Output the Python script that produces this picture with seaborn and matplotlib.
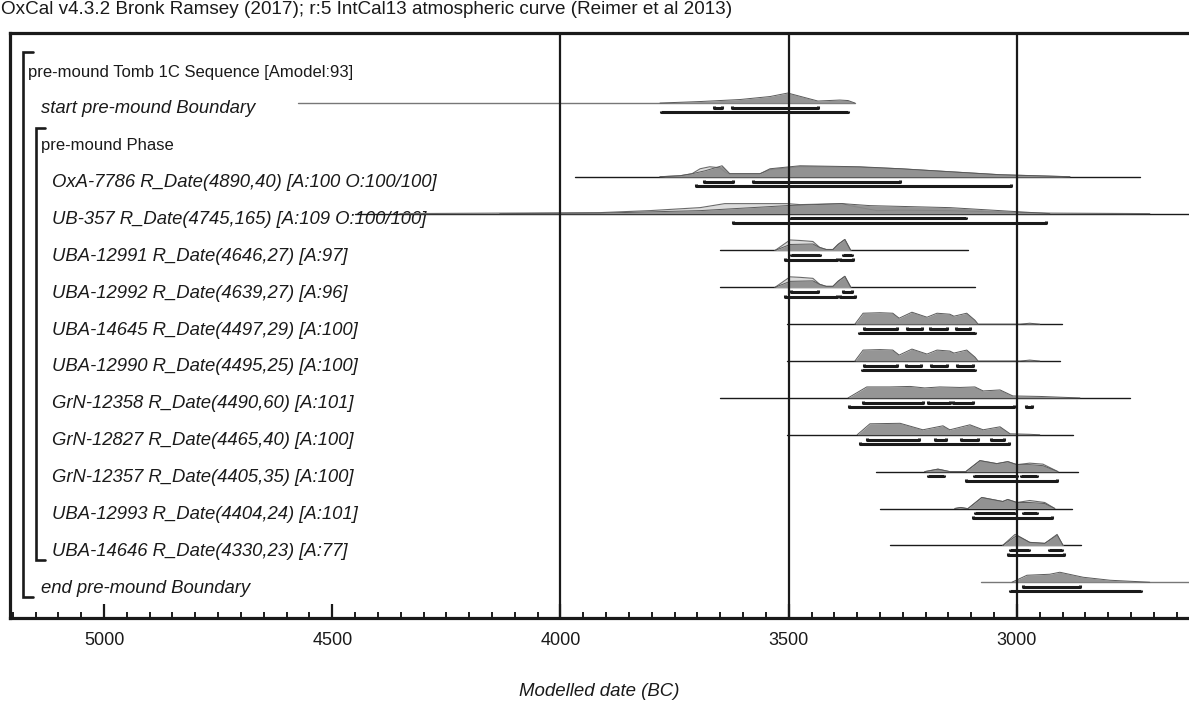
import matplotlib
matplotlib.use("Agg")
import matplotlib.pyplot as plt
import matplotlib.transforms as mtransforms
import pandas as pd
import seaborn as sns

# ---- values: (year BC, relative probability) ----
row_labels = [
    "pre-mound Tomb 1C Sequence [Amodel:93]",
    "start pre-mound Boundary",
    "pre-mound Phase",
    "OxA-7786 R_Date(4890,40) [A:100 O:100/100]",
    "UB-357 R_Date(4745,165) [A:109 O:100/100]",
    "UBA-12991 R_Date(4646,27) [A:97]",
    "UBA-12992 R_Date(4639,27) [A:96]",
    "UBA-14645 R_Date(4497,29) [A:100]",
    "UBA-12990 R_Date(4495,25) [A:100]",
    "GrN-12358 R_Date(4490,60) [A:101]",
    "GrN-12827 R_Date(4465,40) [A:100]",
    "GrN-12357 R_Date(4405,35) [A:100]",
    "UBA-12993 R_Date(4404,24) [A:101]",
    "UBA-14646 R_Date(4330,23) [A:77]",
    "end pre-mound Boundary",
]
label_indent = [0, 1, 1, 2, 2, 2, 2, 2, 2, 2, 2, 2, 2, 2, 1]
label_italic = [False, True, False] + [True] * 12

# baseline extents (from, to) per row, None for group rows
baselines = [None, (4575, 3355), None, (3968, 2731), (4450, 2600),
             (3651, 3107), (3651, 3092), (3504, 2901), (3504, 2906),
             (3651, 2752), (3504, 2877), (3309, 2866), (3300, 2880),
             (3278, 2860), (3079, 2600)]

start_post = [(3782, 0), (3694, 1.5), (3607, 3.5), (3541, 6.5), (3502, 10),
              (3436, 2), (3388, 3), (3370, 2.5), (3355, 0)]

oxa7786_prior = [(3782, 0), (3738, 1), (3712, 3), (3694, 8), (3673, 10), (3651, 9),
                 (3637, 4), (3629, 3), (3563, 3), (3541, 7), (3475, 10), (3344, 9.5),
                 (3256, 8), (3147, 5), (3037, 2), (2884, 0)]
oxa7786_post = [(3782, 0), (3738, 1), (3712, 3), (3683, 6), (3646, 11), (3629, 3),
                (3563, 3), (3541, 8), (3475, 11), (3344, 10), (3256, 8), (3147, 5),
                (3037, 2), (2884, 0)]

ub357_prior = [(4352, 0), (4133, 0.5), (3913, 1), (3804, 3), (3694, 6), (3640, 10),
               (3504, 10), (3475, 9), (3383, 10), (3366, 8), (3307, 3), (3256, 3.5),
               (3147, 3), (3037, 1.5), (2928, 0.5), (2709, 0)]
ub357_post = [(4133, 0), (3913, 0.5), (3694, 3), (3504, 8), (3383, 10), (3322, 8),
              (3147, 6), (3037, 3), (2928, 0)]

uba12991_prior = [(3530, 0), (3497, 10.5), (3475, 10), (3447, 9), (3432, 3), (3418, 1),
                  (3403, 1), (3392, 6), (3377, 11), (3364, 0)]
uba12991_post = [(3530, 0), (3497, 6), (3447, 6.5), (3432, 3), (3418, 1), (3403, 1),
                 (3392, 6), (3377, 11), (3364, 0)]

uba14645_post = [(3355, 0), (3337, 11), (3300, 11.5), (3272, 11), (3258, 6), (3230, 12),
                 (3197, 7), (3175, 11), (3147, 10), (3138, 8), (3110, 11), (3092, 4),
                 (3085, 0), (2993, 0), (2972, 1), (2950, 0)]

grn12358_post = [(3370, 0), (3329, 11), (3278, 11), (3234, 11.5), (3202, 10), (3169, 11),
                 (3125, 10.5), (3092, 11), (3074, 7), (3037, 8), (3009, 2), (2950, 1.5),
                 (2862, 0)]

grn12827_post = [(3350, 0), (3322, 11), (3256, 11.5), (3206, 5), (3162, 9), (3147, 5),
                 (3103, 10), (3074, 5), (3037, 8), (3015, 1), (2972, 0.5), (2950, 0)]

grn12357_prior = [(3202, 0), (3173, 2.5), (3147, 0), (3112, 0), (3081, 11), (3044, 8),
                  (3020, 10), (3000, 7), (2972, 8.5), (2943, 7.5), (2910, 0)]
grn12357_post = [(3202, 0), (3173, 2.5), (3147, 0), (3112, 0), (3081, 11), (3044, 8),
                 (3020, 10), (3000, 7), (2972, 7), (2943, 6), (2910, 0)]

uba12993_prior = [(3136, 0), (3123, 1), (3110, 0), (3107, 0), (3077, 11), (3031, 7),
                  (3020, 9), (3000, 6), (2972, 8), (2939, 6), (2917, 0)]
uba12993_post = [(3136, 0), (3123, 1), (3110, 0), (3107, 0), (3077, 11), (3031, 7),
                 (3020, 9), (3000, 6), (2972, 6), (2939, 5), (2917, 0)]

uba14646_prior = [(3031, 0), (3004, 11), (2972, 3), (2939, 2), (2912, 10), (2899, 0)]
uba14646_post = [(3031, 0), (3000, 10), (2972, 3), (2939, 2), (2912, 11), (2899, 0)]

end_post = [(3011, 0), (2978, 7), (2928, 8), (2906, 10), (2855, 5), (2796, 2), (2709, 0)]

priors = [None, None, None, oxa7786_prior, ub357_prior, uba12991_prior, uba12991_prior,
          None, None, None, None, grn12357_prior, uba12993_prior, uba14646_prior, None]
posts = [None, start_post, None, oxa7786_post, ub357_post, uba12991_post, uba12991_post,
         uba14645_post, uba14645_post, grn12358_post, grn12827_post, grn12357_post,
         uba12993_post, uba14646_post, end_post]

# highest posterior density ranges, 68.2% and 95.4%
ranges_68 = [[], [(3664, 3646), (3624, 3436)], [],
             [(3686, 3622), (3578, 3256)], [(3497, 3112)],
             [(3495, 3432), (3381, 3361)], [(3495, 3436), (3381, 3361)],
             [(3335, 3263), (3241, 3208), (3191, 3153), (3134, 3103)],
             [(3335, 3263), (3243, 3210), (3188, 3153), (3132, 3097)],
             [(3337, 3206), (3195, 3147), (3140, 3096)],
             [(3329, 3215), (3180, 3156), (3123, 3085), (3057, 3028)],
             [(3195, 3160), (3094, 3000), (2991, 2956)],
             [(3092, 3004), (2987, 2956)],
             [(3015, 2974), (2930, 2901)],
             [(2987, 2862)]]
ranges_95 = [[], [(3780, 3370)], [],
             [(3703, 3013)], [(3622, 2936)],
             [(3508, 3394), (3388, 3359)], [(3508, 3394), (3388, 3355)],
             [(3346, 3092)], [(3340, 3092)],
             [(3368, 3007), (2980, 2967)],
             [(3344, 3018)],
             [(3112, 2912)],
             [(3096, 2923)],
             [(3020, 2897)],
             [(3015, 2728)]]

grid_years = [4000, 3500, 3000]

title = "OxCal v4.3.2 Bronk Ramsey (2017); r:5 IntCal13 atmospheric curve (Reimer et al 2013)"

# ---- drawing ----
sns.set_theme(style="white")
plt.rcParams['font.family'] = ['Liberation Sans', 'DejaVu Sans']

W, H = 1189, 702
fig = plt.figure(figsize=(W / 100, H / 100), dpi=100)
ax = fig.add_axes([10 / W, 1 - 618 / H, 1179 / W, (618 - 33) / H])

ROW_PX = 36.85
dark = "#8a8a8a"
light = "#dcdcdc"


def to_df(points, row):
    df = pd.DataFrame(points, columns=["year", "prob"])
    df["y"] = row - df["prob"] / ROW_PX
    return df


for i in range(len(row_labels)):
    if baselines[i] is not None:
        col = "#777777" if i in (1, 14) else "#1a1a1a"
        ax.plot(baselines[i], [i, i], color=col, lw=1.0, zorder=2)
    if priors[i] is not None:
        d = to_df(priors[i], i)
        ax.fill_between(d["year"], i, d["y"], color=light, lw=0, zorder=3)
        sns.lineplot(data=d, x="year", y="y", sort=False, estimator=None,
                     color="#6a6a6a", lw=0.8, ax=ax, zorder=4)
    if posts[i] is not None:
        d = to_df(posts[i], i)
        ax.fill_between(d["year"], i, d["y"], color=dark, lw=0, alpha=0.9, zorder=5)
        sns.lineplot(data=d, x="year", y="y", sort=False, estimator=None,
                     color="#5a5a5a", lw=0.7, ax=ax, zorder=6)
    for k, rr in enumerate((ranges_68[i], ranges_95[i])):
        yy = i + (0.13 if k == 0 else 0.25)
        for a, b in rr:
            ax.plot([a, a, b, b], [yy - 0.045, yy, yy, yy - 0.045],
                    color="#1a1a1a", lw=2.2, solid_capstyle="butt", zorder=7)

for g in grid_years:
    ax.axvline(g, color="#1a1a1a", lw=1.6, zorder=8)

# labels and brackets (x in axes fraction, y in rows)
trans = mtransforms.blended_transform_factory(ax.transAxes, ax.transData)
indent_px = [28, 41, 52]
for i, lab in enumerate(row_labels):
    ax.text((indent_px[label_indent[i]] - 10) / 1179, i + 0.16, lab, transform=trans,
            ha="left", va="center", fontsize=13.3 if label_italic[i] else 12,
            color="#1a1a1a", style="italic" if label_italic[i] else "normal", zorder=1)


def bracket(x0_px, x1_px, top_px, bot_px):
    xs = [(x1_px - 10) / 1179, (x0_px - 10) / 1179, (x0_px - 10) / 1179, (x1_px - 10) / 1179]
    ys = [(top_px - 66.2) / ROW_PX, (top_px - 66.2) / ROW_PX,
          (bot_px - 66.2) / ROW_PX, (bot_px - 66.2) / ROW_PX]
    ax.plot(xs, ys, transform=trans, color="#1a1a1a", lw=1.9, clip_on=False,
            solid_joinstyle="miter")


bracket(23, 33, 52, 597)
bracket(36, 45, 128, 560)

ax.set_xlim(5206, 2623)
ax.set_ylim(14.97, -0.9)
ax.set_yticks([])
ax.set_xticks([5000, 4500, 4000, 3500, 3000])
ax.set_xticks(list(range(5200, 2600, -50)), minor=True)
ax.tick_params(axis="x", which="major", direction="in", length=10, width=1.6,
               pad=10, labelsize=13, colors="#1a1a1a", bottom=True)
ax.tick_params(axis="x", which="minor", direction="in", length=4.5, width=1.4,
               colors="#1a1a1a", bottom=True)
for s in ("left", "top", "bottom"):
    ax.spines[s].set_linewidth(2.3)
    ax.spines[s].set_color("#1a1a1a")
ax.spines["right"].set_visible(False)
ax.set_xlabel("Modelled date (BC)", style="italic", fontsize=13.4, color="#1a1a1a",
              va="center")
ax.xaxis.set_label_coords(0.5, -(691 - 618) / 585)
ax.set_ylabel("")

fig.text(1 / W, 1 - 10 / H, title, ha="left", va="center", fontsize=13.6, color="#1a1a1a")

fig.savefig("out.png", dpi=100)
